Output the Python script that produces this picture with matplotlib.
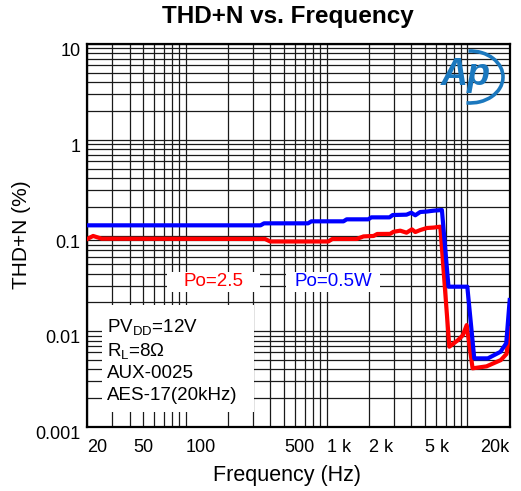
import numpy as np
import matplotlib
matplotlib.use('Agg')
import matplotlib.pyplot as plt
from matplotlib.ticker import LogLocator, FixedLocator, FixedFormatter, NullFormatter
from matplotlib.patches import Rectangle, Arc
from matplotlib.transforms import ScaledTranslation

plt.rcParams['font.family'] = ['Liberation Sans', 'DejaVu Sans']
plt.rcParams['mathtext.fontset'] = 'custom'
plt.rcParams['mathtext.rm'] = 'Liberation Sans'
plt.rcParams['mathtext.it'] = 'Liberation Sans:italic'
plt.rcParams['mathtext.bf'] = 'Liberation Sans:bold'

# ---- data ----
freq_05w = [20, 340, 360, 740, 780, 1320, 1390, 1980, 2080, 2800, 2950, 3700, 4000,
            4270, 4630, 5170, 5760, 6600, 7350, 10000, 11200, 14000, 17200, 18900, 20000]
thd_05w = [0.1277, 0.1277, 0.1340, 0.1340, 0.1406, 0.1406, 0.1475, 0.1475, 0.1547,
           0.1547, 0.1636, 0.1650, 0.173, 0.1626, 0.176, 0.178, 0.1817, 0.1846,
           0.0292, 0.0292, 0.00521, 0.00521, 0.0061, 0.0075, 0.0212]

freq_25w = [20, 22, 25.3, 366, 398, 1030, 1100, 1640, 1830, 2160, 2290, 2830, 2990,
            3340, 3700, 4040, 4270, 4630, 5170, 5760, 6430, 7450, 8600, 9300, 9900,
            10900, 13700, 17300, 19000, 20000]
thd_25w = [0.0920, 0.0989, 0.0926, 0.0920, 0.0866, 0.0866, 0.0920, 0.0920, 0.0978,
           0.0989, 0.1037, 0.1040, 0.1094, 0.1123, 0.107, 0.116, 0.1087, 0.114,
           0.1198, 0.121, 0.1236, 0.0069, 0.0081, 0.0091, 0.0116, 0.0041, 0.0043,
           0.0050, 0.0058, 0.0108]

x_ticks = [20, 50, 100, 500, 1000, 2000, 5000, 20000]
x_labels = ['20', '50', '100', '500', '1 k', '2 k', '5 k', '20k']
y_ticks = [0.001, 0.01, 0.1, 1, 10]
y_labels = ['0.001', '0.01', '0.1', '1', '10']

label_25w = 'Po=2.5'
label_05w = 'Po=0.5W'
conditions = ['PV$_{\\mathrm{DD}}$=12V', 'R$_{\\mathrm{L}}$=8\u03a9', 'AUX-0025', 'AES-17(20kHz)']

# ---- figure ----
W, H = 521, 491
fig = plt.figure(figsize=(W / 100, H / 100), dpi=100)
ax_l, ax_r, ax_t, ax_b = 87.3, 509.7, 44.0, 427.0
ax = fig.add_axes([ax_l / W, 1 - ax_b / H, (ax_r - ax_l) / W, (ax_b - ax_t) / H])

def axc(px, py):
    return ((px - ax_l) / (ax_r - ax_l), (ax_b - py) / (ax_b - ax_t))

ax.set_xscale('log')
ax.set_yscale('log')
ax.set_xlim(20, 20000)
ax.set_ylim(0.001, 10)

ax.xaxis.set_major_locator(FixedLocator(x_ticks))
ax.xaxis.set_major_formatter(FixedFormatter(x_labels))
ax.xaxis.set_minor_locator(LogLocator(base=10, subs=np.arange(1, 10), numticks=50))
ax.xaxis.set_minor_formatter(NullFormatter())
ax.yaxis.set_major_locator(FixedLocator(y_ticks))
ax.yaxis.set_major_formatter(FixedFormatter(y_labels))
ax.yaxis.set_minor_locator(LogLocator(base=10, subs=np.arange(2, 10), numticks=50))
ax.yaxis.set_minor_formatter(NullFormatter())

ax.tick_params(which='both', length=0)
ax.tick_params(axis='x', labelsize=13, pad=9)
ax.tick_params(axis='y', labelsize=13, pad=5)
ax.set_axisbelow(True)
ax.grid(True, which='both', color='#1a1a1a', linewidth=0.9)
for s in ax.spines.values():
    s.set_linewidth(1.6)
    s.set_color('black')

for lab, ha in zip(ax.get_xticklabels(), ['left', 'center', 'left', 'left', 'left', 'left', 'left', 'right']):
    lab.set_ha(ha)
off = ScaledTranslation(0, -4 / 72, fig.dpi_scale_trans)
for lab in ax.get_yticklabels():
    lab.set_transform(lab.get_transform() + off)

# curves
ax.plot(freq_25w, thd_25w, color='#ff0000', linewidth=3.0, solid_joinstyle='round', zorder=3)
ax.plot(freq_05w, thd_05w, color='#0000ff', linewidth=3.0, solid_joinstyle='round', zorder=4)

# legend labels with white boxes
x0, y0 = axc(167, 292); x1, y1 = axc(260, 272)
ax.add_patch(Rectangle((x0, y0), x1 - x0, y1 - y0, transform=ax.transAxes,
                       facecolor='white', edgecolor='none', zorder=1.5))
x0, y0 = axc(286, 292); x1, y1 = axc(380, 272)
ax.add_patch(Rectangle((x0, y0), x1 - x0, y1 - y0, transform=ax.transAxes,
                       facecolor='white', edgecolor='none', zorder=1.5))
tx, ty = axc(213.3, 281)
ax.text(tx, ty, label_25w, transform=ax.transAxes, color='#ff0000', fontsize=13.5,
        ha='center', va='center', zorder=5)
tx, ty = axc(333.3, 281)
ax.text(tx, ty, label_05w, transform=ax.transAxes, color='#0000ff', fontsize=13.5,
        ha='center', va='center', zorder=5)

# conditions box
x0, y0 = axc(102, 412); x1, y1 = axc(254, 305)
ax.add_patch(Rectangle((x0, y0), x1 - x0, y1 - y0, transform=ax.transAxes,
                       facecolor='white', edgecolor='none', zorder=1.5))
for txt, py in zip(conditions, [327, 351, 373, 395]):
    tx, ty = axc(107, py)
    ax.text(tx, ty, txt, transform=ax.transAxes, color='black', fontsize=13.5,
            ha='left', va='center', zorder=5)

# AP logo
logo_c = '#1b78be'
cx, cy = axc(470, 77)
ax.add_patch(Arc((cx, cy), 66 / (ax_r - ax_l), 52 / (ax_b - ax_t), theta1=-97, theta2=93,
                 transform=ax.transAxes, color=logo_c, linewidth=2.6, zorder=5))
tx, ty = axc(466, 75)
ax.text(tx, ty, 'Ap', transform=ax.transAxes, color=logo_c, fontsize=27,
        fontstyle='italic', fontweight='bold', ha='center', va='center', zorder=6)

# titles
fig.text(287.5 / W, 1 - 16 / H, 'THD+N vs. Frequency', fontsize=17.5, fontweight='bold',
         ha='center', va='center')
fig.text(286.7 / W, 1 - 475 / H, 'Frequency (Hz)', fontsize=15.5, ha='center', va='center')
fig.text(22 / W, 1 - 235 / H, 'THD+N (%)', fontsize=15, rotation=90, ha='center', va='center')

fig.savefig('out.png', dpi=100)
